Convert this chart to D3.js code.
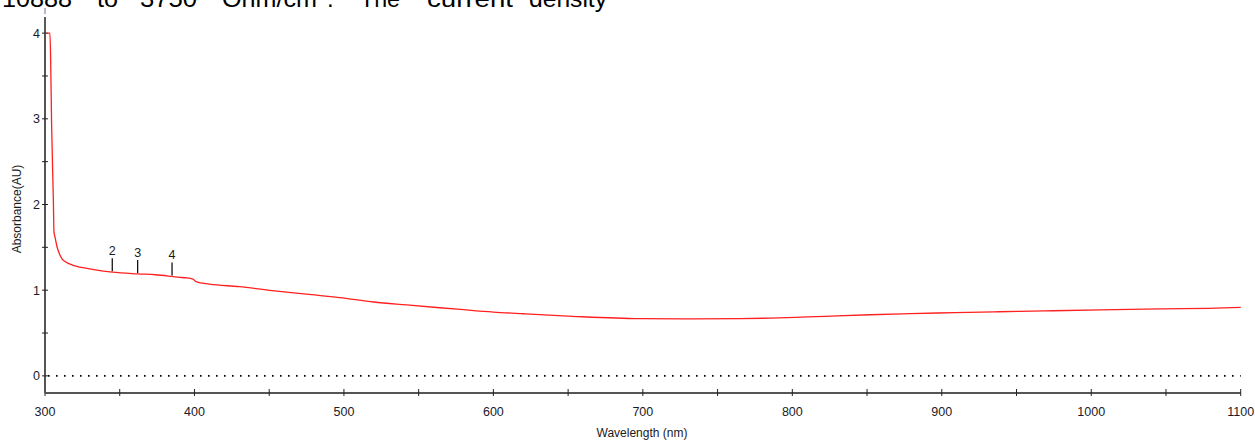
<!DOCTYPE html>
<html>
<head>
<meta charset="utf-8">
<script src="https://cdn.jsdelivr.net/npm/d3@7"></script>
<style>
  html, body { margin: 0; padding: 0; background: #fff; }
  svg { display: block; }
  text { font-family: "Liberation Sans", Arial, sans-serif; }
</style>
</head>
<body>
<svg id="chart" width="1255" height="443"></svg>
<script>
// ---- data ----
const wavelengths = [301, 303.3, 303.8, 304.4, 305.6, 306, 306.7, 308, 310, 311.4, 313.4, 320, 330, 345, 362, 374, 385, 390, 394, 399, 401, 410, 430, 452, 475, 497, 520, 542, 564, 578, 600, 620, 653, 698, 735, 765, 785, 810, 830, 852, 879, 909, 938, 969, 1006, 1046, 1083, 1100];
const absorbance  = [4.0, 4.0, 3.67, 2.95, 2.05, 1.68, 1.62, 1.51, 1.41, 1.365, 1.334, 1.285, 1.249, 1.21, 1.19, 1.18, 1.16, 1.15, 1.145, 1.13, 1.10, 1.07, 1.042, 0.995, 0.953, 0.914, 0.862, 0.828, 0.795, 0.775, 0.745, 0.725, 0.695, 0.667, 0.664, 0.667, 0.674, 0.688, 0.70, 0.713, 0.726, 0.738, 0.748, 0.758, 0.77, 0.782, 0.79, 0.80];
const peakLabels = ["2", "3", "4"];
const peakWavelengths = [345, 362, 385];
const xTickValues = [300, 400, 500, 600, 700, 800, 900, 1000, 1100];
const xMinorTicks = [350, 450, 550, 650, 750, 850, 950, 1050];
const yTickValues = [0, 1, 2, 3, 4];
const yMinorTicks = [0.5, 1.5, 2.5, 3.5];
const headerWords = ["10888", "to", "3750", "Ohm/cm", ".", "The", "current", "density"];
const xLabel = "Wavelength (nm)";
const yLabel = "Absorbance(AU)";

// ---- layout ----
const svg = d3.select("#chart");
const x = d3.scaleLinear().domain([300, 1100]).range([45, 1240.7]);
const y = d3.scaleLinear().domain([-0.2, 4.2]).range([393, 16]);

// header text (line of document text cut by the top edge)
const headerX = [2, 97, 140, 222, 327, 360, 427, 529];
const headerW = [70, 21, 57, 95, 4, 40, 86, 78];
svg.append("g").selectAll("text").data(headerWords).join("text")
  .attr("x", (d, i) => headerX[i])
  .attr("y", 7)
  .attr("font-size", 24)
  .attr("fill", "#000")
  .attr("textLength", (d, i) => d.length > 1 ? headerW[i] : null)
  .attr("lengthAdjust", "spacingAndGlyphs")
  .text(d => d);

// zero dotted line
svg.append("line")
  .attr("x1", x(300) + 3).attr("x2", x(1100))
  .attr("y1", y(0)).attr("y2", y(0))
  .attr("stroke", "#000").attr("stroke-width", 1.6)
  .attr("stroke-dasharray", "1.6,6.4");

// x axis
const xAxis = svg.append("g").attr("transform", `translate(0,${y(-0.2)})`);
xAxis.append("line").attr("x1", x(300)).attr("x2", x(1100)).attr("y1", 0).attr("y2", 0)
  .attr("stroke", "#555").attr("stroke-width", 2);
xAxis.selectAll("line.tick").data(xTickValues.concat(xMinorTicks)).join("line")
  .attr("class", "tick")
  .attr("x1", d => x(d)).attr("x2", d => x(d))
  .attr("y1", -4).attr("y2", 3)
  .attr("stroke", "#222").attr("stroke-width", 1);
xAxis.selectAll("text").data(xTickValues).join("text")
  .attr("x", d => x(d)).attr("y", 23)
  .attr("text-anchor", "middle").attr("font-size", 12.5).attr("fill", "#1a1a2a")
  .text(d => d);
svg.append("text").attr("x", 642).attr("y", 437)
  .attr("text-anchor", "middle").attr("font-size", 12).attr("fill", "#1a1a1a")
  .text(xLabel);

// y axis
const yAxis = svg.append("g").attr("transform", `translate(${x(300)},0)`);
yAxis.append("line").attr("x1", 0).attr("x2", 0).attr("y1", y(4)).attr("y2", y(-0.2))
  .attr("stroke", "#555").attr("stroke-width", 2);
yAxis.append("line").attr("x1", 0).attr("x2", 0).attr("y1", 17).attr("y2", y(4))
  .attr("stroke", "#000").attr("stroke-width", 1.3);
yAxis.append("line").attr("x1", 0).attr("x2", 0).attr("y1", 8).attr("y2", 14)
  .attr("stroke", "#7a6a9a").attr("stroke-width", 1);
yAxis.selectAll("line.tick").data(yTickValues.concat(yMinorTicks)).join("line")
  .attr("class", "tick")
  .attr("x1", -3).attr("x2", 3)
  .attr("y1", d => y(d)).attr("y2", d => y(d))
  .attr("stroke", "#222").attr("stroke-width", 1);
yAxis.selectAll("text").data(yTickValues).join("text")
  .attr("x", -5).attr("y", d => y(d) + 4.5)
  .attr("text-anchor", "end").attr("font-size", 12.5).attr("fill", "#1a1a2a")
  .text(d => d);
svg.append("text")
  .attr("transform", `translate(21,209) rotate(-90)`)
  .attr("text-anchor", "middle").attr("font-size", 12).attr("fill", "#1a1a1a")
  .text(yLabel);

// spectrum
const pts = wavelengths.map((w, i) => [w, absorbance[i]]);
svg.append("path").datum(pts)
  .attr("fill", "none").attr("stroke", "#ff2020").attr("stroke-width", 1.3)
  .attr("d", d3.line().x(d => x(d[0])).y(d => y(d[1])).curve(d3.curveMonotoneX));

// peak markers
const interp = w => {
  const i = d3.bisectLeft(wavelengths, w);
  const w0 = wavelengths[i - 1], w1 = wavelengths[i];
  const a0 = absorbance[i - 1], a1 = absorbance[i];
  return a0 + (a1 - a0) * (w - w0) / (w1 - w0);
};
const peaks = svg.append("g");
peakWavelengths.forEach((w, i) => {
  const yc = y(interp(w));
  peaks.append("line").attr("x1", x(w)).attr("x2", x(w))
    .attr("y1", yc - 1).attr("y2", yc - 14)
    .attr("stroke", "#000").attr("stroke-width", 1.2);
  peaks.append("text").attr("x", x(w)).attr("y", yc - 17)
    .attr("text-anchor", "middle").attr("font-size", 12.5).attr("fill", "#1a1a1a")
    .text(peakLabels[i]);
});
</script>
</body>
</html>
